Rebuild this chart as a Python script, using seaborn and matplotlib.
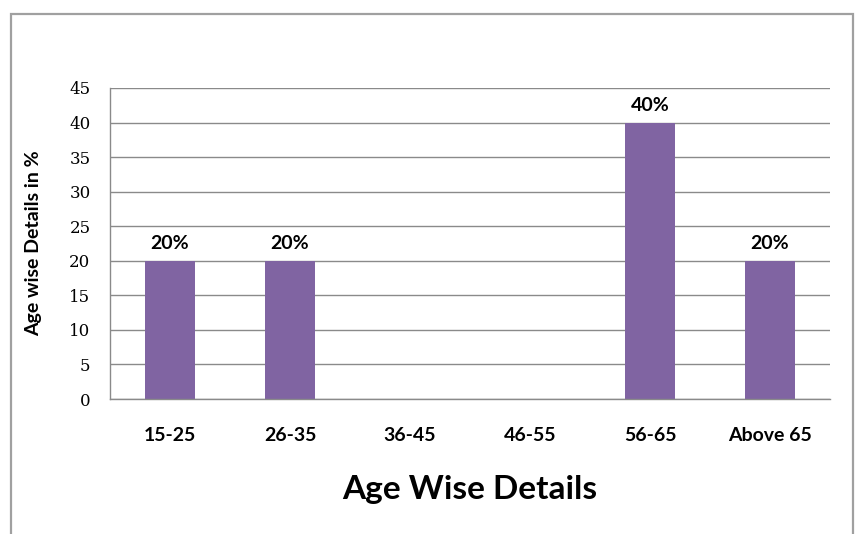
import matplotlib
matplotlib.use("Agg")
import matplotlib.pyplot as plt
import matplotlib.patches as mpatches
import seaborn as sns

# Share of respondents per age group (%)
age_groups = ["15-25", "26-35", "36-45", "46-55", "56-65", "Above 65"]
share_pct = [20, 20, 0, 0, 40, 20]
y_ticks = [0, 5, 10, 15, 20, 25, 30, 35, 40, 45]

BAR_COLOR = "#8064A2"
GRID_COLOR = "#8a8a8a"
SANS = ["Lato", "DejaVu Sans"]
SERIF = ["DejaVu Serif"]

sns.set_theme(style="white")
plt.rcParams["font.family"] = SANS
plt.rcParams["text.color"] = "black"
plt.rcParams["axes.labelcolor"] = "black"

fig = plt.figure(figsize=(8.6, 5.34), dpi=100)
fig.patch.set_facecolor("white")
ax = fig.add_axes([110 / 860, 1 - 399 / 534, 720 / 860, 311 / 534])

sns.barplot(x=age_groups, y=share_pct, order=age_groups, color=BAR_COLOR,
            saturation=1, width=0.41, linewidth=0, edgecolor=BAR_COLOR, ax=ax)

ax.set_xlim(-0.5, len(age_groups) - 0.5)
ax.set_ylim(0, 45)
ax.set_yticks(y_ticks)
ax.set_yticklabels([str(t) for t in y_ticks], family=SERIF, fontsize=12)
ax.yaxis.grid(True, color=GRID_COLOR, linewidth=1)
ax.set_axisbelow(True)

for side in ("top", "right"):
    ax.spines[side].set_visible(False)
for side in ("left", "bottom"):
    ax.spines[side].set_color(GRID_COLOR)
    ax.spines[side].set_linewidth(1)

ax.tick_params(axis="y", length=0, pad=14, colors="black")
ax.tick_params(axis="x", length=0, pad=20, colors="black")
for lbl in ax.get_xticklabels():
    lbl.set_fontweight("bold")
    lbl.set_fontsize(14)

# value labels above non-empty bars
bar_texts = [f"{v}%" if v else "" for v in share_pct]
ax.bar_label(ax.containers[0], labels=bar_texts, padding=6,
             fontsize=14, fontweight="bold", color="black")

ax.set_ylabel("Age wise Details in %", fontsize=14, fontweight="bold")
ax.yaxis.set_label_coords(-0.094, 0.5)
ax.set_xlabel("Age Wise Details", fontsize=24, fontweight="bold")
ax.xaxis.set_label_coords(0.5, -0.29)
ax.xaxis.label.set_va("center")

# chart-area frame
frame = mpatches.Rectangle((10.5 / 860, -0.05), 842 / 860, 1.05 - 13.5 / 534,
                           transform=fig.transFigure, fill=False,
                           edgecolor="#a0a0a0", linewidth=1.6, clip_on=False)
fig.patches.append(frame)

fig.savefig("out.png", dpi=100, facecolor="white")
